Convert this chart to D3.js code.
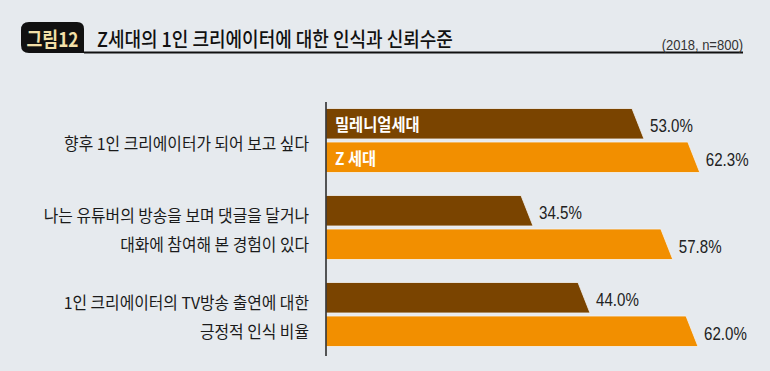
<!DOCTYPE html>
<html>
<head>
<meta charset="utf-8">
<script src="https://cdn.jsdelivr.net/npm/d3@7"></script>
<style>
  body { margin: 0; background: #e6eaee; }
  svg { display: block; }
</style>
</head>
<body>
<svg id="chart" width="770" height="371"></svg>
<script>
// chart data
const categories = [
  ["향후 1인 크리에이터가 되어 보고 싶다"],
  ["나는 유튜버의 방송을 보며 댓글을 달거나", "대화에 참여해 본 경험이 있다"],
  ["1인 크리에이터의 TV방송 출연에 대한", "긍정적 인식 비율"],
];
const seriesNames = ["밀레니얼세대", "Z 세대"];
const millennial = [53.0, 34.5, 44.0];
const genZ = [62.3, 57.8, 62.0];
const titleTag = "그림12";
const titleText = "Z세대의 1인 크리에이터에 대한 인식과 신뢰수준";
const noteText = "(2018, n=800)";

const colors = ["#7a4400", "#f28f00"];
const kr = "'Noto Sans CJK KR', 'Noto Sans', sans-serif";
const num = "'Liberation Sans', Arial, sans-serif";

const svg = d3.select("#chart");

// condensed looking text: scale only horizontally
function label(g, x, y, text, o) {
  return g.append("text")
    .attr("transform", `translate(${x},${y}) scale(${o.sx || 0.88},1)`)
    .attr("text-anchor", o.anchor || "start")
    .attr("dominant-baseline", "central")
    .attr("font-family", o.family || kr)
    .attr("font-size", o.size)
    .attr("font-weight", o.weight || 400)
    .attr("fill", o.fill || "#222")
    .text(text);
}

// ---- header
const head = svg.append("g");
head.append("path")
  .attr("d", "M29,22 H77 Q84,22 84,29 V53 H29 Q21,53 21,45 V30 Q21,22 29,22 Z")
  .attr("fill", "#111");
head.append("line")
  .attr("x1", 84).attr("x2", 743)
  .attr("y1", 52.5).attr("y2", 52.5)
  .attr("stroke", "#111").attr("stroke-width", 2);
label(head, 52.5, 38, titleTag, { anchor: "middle", size: 20, weight: 700, fill: "#f3e0a8", sx: 0.86 });
label(head, 97, 38, titleText, { size: 20, weight: 500, fill: "#111", sx: 0.9 });
label(head, 743, 45, noteText, { anchor: "end", size: 14, family: num, fill: "#333", sx: 0.93 });

// ---- scales
const x = d3.scaleLinear().domain([0, 100]).range([326, 926]);
const y = d3.scaleBand()
  .domain(d3.range(categories.length))
  .range([108.5, 346.5])
  .paddingInner(23 / 87);
const ySub = d3.scaleBand()
  .domain(d3.range(seriesNames.length))
  .range([0, y.bandwidth()])
  .paddingInner(0.09);

const rows = categories.map((c, i) => ({
  lines: c,
  values: [millennial[i], genZ[i]],
}));

const slant = 12;
const chart = svg.append("g");

const group = chart.selectAll("g.row")
  .data(rows)
  .join("g")
  .attr("class", "row")
  .attr("transform", (d, i) => `translate(0,${y(i)})`);

// bars with slanted right end
group.selectAll("path.bar")
  .data((d) => d.values.map((v, s) => ({ v, s })))
  .join("path")
  .attr("class", "bar")
  .attr("fill", (d) => colors[d.s])
  .attr("stroke", "#f2f2f2")
  .attr("stroke-width", 0.8)
  .attr("d", (d) => {
    const y0 = ySub(d.s), h = ySub.bandwidth();
    const x0 = x(0), x1 = x(d.v);
    return `M${x0},${y0} L${x1 - slant},${y0} L${x1},${y0 + h} L${x0},${y0 + h} Z`;
  });

// value labels
group.each(function (d) {
  const g = d3.select(this);
  d.values.forEach((v, s) => {
    label(g, x(v) + 6, ySub(s) + ySub.bandwidth() / 2 + 2.5, v.toFixed(1) + "%",
      { size: 18, family: num, fill: "#222", sx: 0.84 });
  });
  // category labels on the left
  const lh = 29;
  d.lines.forEach((t, k) => {
    const cy = y.bandwidth() / 2 + 2 + (k - (d.lines.length - 1) / 2) * lh;
    label(g, 309, cy, t, { anchor: "end", size: 16.5, fill: "#1a1a1a", sx: 0.96 });
  });
});

// series names inside the first group's bars
const first = chart.select("g.row");
seriesNames.forEach((n, s) => {
  label(first, 335, ySub(s) + ySub.bandwidth() / 2 + 1, n,
    { size: 16.5, weight: 700, fill: "#fff", sx: 0.93 });
});

// axis line
chart.append("line")
  .attr("x1", x(0)).attr("x2", x(0))
  .attr("y1", 102).attr("y2", 356)
  .attr("stroke", "#222").attr("stroke-width", 1.5);
</script>
</body>
</html>
